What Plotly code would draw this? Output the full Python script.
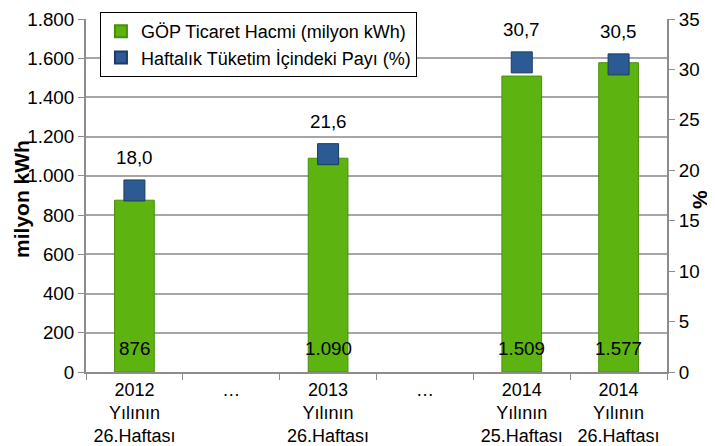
import plotly.graph_objects as go

categories = ["2012<br>Yılının<br>26.Haftası", "…", "2013<br>Yılının<br>26.Haftası", "…",
              "2014<br>Yılının<br>25.Haftası", "2014<br>Yılının<br>26.Haftası"]
volume = [876, None, 1090, None, 1509, 1577]          # milyon kWh
share = [18.0, None, 21.6, None, 30.7, 30.5]          # %
y1_ticks = [0, 200, 400, 600, 800, 1000, 1200, 1400, 1600, 1800]
y2_ticks = [0, 5, 10, 15, 20, 25, 30, 35]

xpos = list(range(len(categories)))
font = "Liberation Sans, Arial, sans-serif"
FS = 18.8

fig = go.Figure()
fig.add_trace(go.Bar(
    x=xpos, y=volume, name="GÖP Ticaret Hacmi (milyon kWh)",
    marker=dict(color="#5db30f", line=dict(color="#4a8f0c", width=1)),
    width=0.41, yaxis="y",
))
sx = [x for x, s in zip(xpos, share) if s is not None]
sy = [s for s in share if s is not None]
fig.add_trace(go.Scatter(
    x=sx, y=sy, name="Haftalık Tüketim İçindeki Payı (%)", mode="markers",
    marker=dict(symbol="square", size=21, color="#2c5a92", line=dict(color="#1b3b66", width=1)),
    yaxis="y2",
))

annotations = []
for x, v in zip(xpos, volume):
    if v is None:
        continue
    annotations.append(dict(x=x, y=0, xref="x", yref="y", yshift=24, showarrow=False,
                            text=f"{v:,}".replace(",", "."), font=dict(size=FS, color="black")))
for x, s in zip(sx, sy):
    annotations.append(dict(x=x, y=s, xref="x", yref="y2", yshift=33, showarrow=False,
                            text=f"{s:.1f}".replace(".", ","), font=dict(size=FS, color="black")))
annotations.append(dict(x=-0.112, y=0.49, xref="paper", yref="paper", showarrow=False,
                        xanchor="center", yanchor="middle",
                        text="<b>milyon kWh</b>", textangle=-90, font=dict(size=21, color="black")))
annotations.append(dict(x=1.055, y=0.49, xref="paper", yref="paper", showarrow=False,
                        xanchor="center", yanchor="middle",
                        text="<b>%</b>", textangle=-90, font=dict(size=21, color="black")))

# page body has an 8px default margin, so the figure is drawn 8px smaller and offset
fig.update_layout(
    width=707, height=438,
    margin=dict(l=78, r=48, t=11, b=74, autoexpand=False),
    paper_bgcolor="white", plot_bgcolor="white",
    separators=",.",
    font=dict(family=font, size=FS, color="black"),
    showlegend=True,
    legend=dict(x=0.024, y=0.991, xanchor="left", yanchor="top", yref="container",
                bgcolor="white", bordercolor="black", borderwidth=1, itemsizing="constant",
                font=dict(size=FS - 0.8), tracegroupgap=0, itemwidth=30),
    xaxis=dict(range=[-0.5, 5.5], tickvals=xpos, ticktext=categories, ticks="",
               showgrid=False, showline=True, linecolor="#8c8c8c", linewidth=2,
               tickfont=dict(size=18), automargin=False,
               minor=dict(tick0=0.5, dtick=1, ticks="outside", ticklen=6, tickcolor="#8c8c8c")),
    yaxis=dict(range=[0, 1800], tickvals=y1_ticks, tickformat=",d", ticks="outside", ticklen=6,
               tickcolor="#8c8c8c", showline=True, linecolor="#8c8c8c", linewidth=2, automargin=False,
               showgrid=True, gridcolor="#a6a6a6", gridwidth=2, zeroline=False),
    yaxis2=dict(range=[0, 35], tickvals=y2_ticks, overlaying="y", side="right", ticks="outside",
                ticklen=6, tickcolor="#8c8c8c", showline=True, linecolor="#8c8c8c", linewidth=2,
                showgrid=False, zeroline=False, automargin=False),
    annotations=annotations,
)

fig.write_html("out.html")
